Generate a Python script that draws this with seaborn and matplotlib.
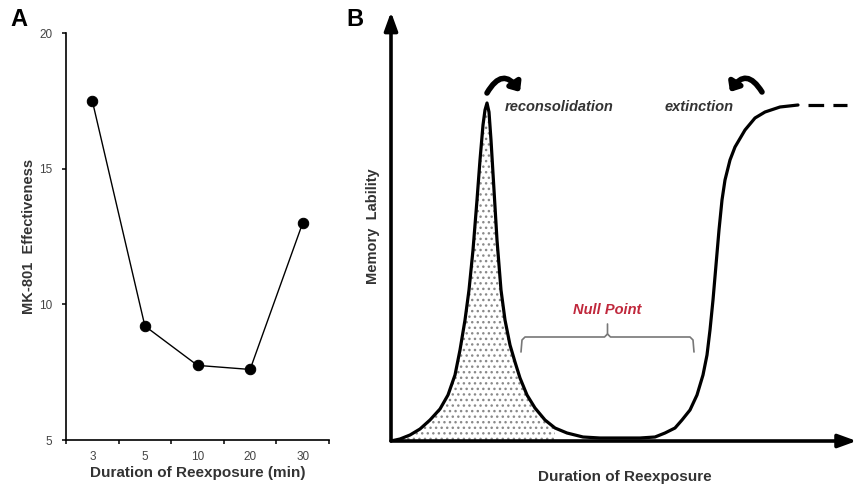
import matplotlib.pyplot as plt
import seaborn as sns
import pandas as pd
import numpy as np
from matplotlib.patches import FancyArrowPatch

# Panel A: MK-801 effectiveness vs duration of reexposure
exposure_min = ["3", "5", "10", "20", "30"]
mk801_effect = [17.5, 9.2, 7.75, 7.6, 13.0]

# Panel B: schematic memory lability curve (arbitrary units)
b_duration = [0, 9, 19, 29, 39, 49, 57, 64, 69, 74, 78, 82, 86, 89, 92, 94, 96,
              98, 100, 103, 106, 110, 114, 119, 124, 129, 136, 144, 154, 164, 176,
              192, 209, 229, 249, 264, 274, 284, 291, 299, 306, 312, 316, 319, 322,
              325, 328, 331, 334, 339, 344, 354, 364, 374, 389, 407]
b_lability = [0, 2, 6, 12, 21, 32, 46, 66, 91, 121, 151, 191, 241, 281, 316, 331, 338,
              329, 301, 251, 201, 151, 121, 96, 79, 63, 46, 33, 21, 13, 8,
              4, 3, 3, 3, 4, 8, 13, 21, 31, 46, 66, 86, 111, 141,
              176, 211, 241, 261, 281, 294, 311, 323, 329, 334, 336]
dash_duration = [417, 456]
dash_lability = [336, 336]
shade_until = 166
null_span = [130, 303]

sns.set_theme(style="white")
plt.rcParams["font.family"] = ["Liberation Sans", "DejaVu Sans"]

fig = plt.figure(figsize=(8.58, 4.86), dpi=100)

# ---------------- A ----------------
axA = fig.add_axes([66 / 858, 1 - 440 / 486, 263 / 858, 407 / 486])
dfA = pd.DataFrame({"pos": np.arange(len(exposure_min)), "eff": mk801_effect})
sns.lineplot(data=dfA, x="pos", y="eff", ax=axA, color="black", lw=1.0,
             marker="o", markersize=7.5, markeredgecolor="black", estimator=None)
axA.set_xlim(-0.5, len(exposure_min) - 0.5)
axA.set_ylim(5, 20)
axA.set_yticks([5, 10, 15, 20])
axA.set_xticks(range(len(exposure_min)))
axA.set_xticklabels(exposure_min)
axA.set_xticks(np.arange(-0.5, len(exposure_min)), minor=True)
axA.tick_params(axis="x", which="major", length=0, pad=8, labelsize=8.5, labelcolor="#444444")
axA.tick_params(axis="x", which="minor", bottom=True, length=3, width=1.1, color="black")
axA.tick_params(axis="y", left=True, length=3, width=1.1, color="black", pad=7,
                labelsize=8.5, labelcolor="#444444")
for s in ["top", "right"]:
    axA.spines[s].set_visible(False)
for s in ["left", "bottom"]:
    axA.spines[s].set_color("black")
    axA.spines[s].set_linewidth(1.2)
axA.set_xlabel("")
axA.set_ylabel("")
axA.text(0.5, -0.063, "Duration of Reexposure (min)", transform=axA.transAxes,
         fontsize=11, fontweight="bold", color="#333333", ha="center", va="top")
axA.text(-0.14, 0.5, "MK-801  Effectiveness", transform=axA.transAxes, rotation=90,
         fontsize=10.5, fontweight="bold", color="#333333", ha="center", va="center")
fig.text(10 / 858, 1 - 8 / 486, "A", fontsize=17, fontweight="bold", color="black",
         va="top", ha="left")

# ---------------- B ----------------
axB = fig.add_axes([391 / 858, 1 - 441 / 486, 467 / 858, 429 / 486])
axB.set_xlim(0, 467)
axB.set_ylim(0, 429)
for s in axB.spines.values():
    s.set_visible(False)
axB.set_xticks([])
axB.set_yticks([])

bx = np.array(b_duration)
by = np.array(b_lability)
axB.fill_between(bx, 0, by, where=bx <= shade_until, facecolor="white",
                 edgecolor="#8a8a8a", hatch="...", linewidth=0, zorder=1)
sns.lineplot(x=b_duration, y=b_lability, ax=axB, sort=False, estimator=None,
             color="black", lw=2.3, zorder=3)
axB.plot(dash_duration, dash_lability, color="black", lw=2.3, dashes=(4.9, 2.9),
         solid_capstyle="butt", zorder=3)

# axis arrows
arrow_kw = dict(arrowstyle="-|>,head_length=0.55,head_width=0.2", mutation_scale=20,
                lw=2.6, color="black", shrinkA=0, shrinkB=0)
axB.annotate("", xy=(0.997, 0), xytext=(0, 0), xycoords="axes fraction",
             textcoords="axes fraction", arrowprops=arrow_kw, annotation_clip=False)
axB.annotate("", xy=(0, 1.0), xytext=(0, 0), xycoords="axes fraction",
             textcoords="axes fraction", arrowprops=arrow_kw, annotation_clip=False)

# curved arrows
curl_kw = dict(arrowstyle="-|>,head_length=0.35,head_width=0.3", mutation_scale=14,
               lw=4, color="black", shrinkA=0, shrinkB=0)
axB.add_patch(FancyArrowPatch((96, 348), (129, 349), connectionstyle="arc3,rad=-0.8",
                              **curl_kw))
axB.add_patch(FancyArrowPatch((371, 349), (339, 349), connectionstyle="arc3,rad=0.8",
                              **curl_kw))

axB.text(114, 334, "reconsolidation", fontsize=10.5, fontweight="bold", style="italic",
         color="#333333", ha="left", va="center")
axB.text(274, 334, "extinction", fontsize=10.5, fontweight="bold", style="italic",
         color="#333333", ha="left", va="center")

# null point brace
mid = (null_span[0] + null_span[1]) / 2
x0, x1 = null_span
axB.plot([x0, x0 + 1, x0 + 4, mid - 3, mid, mid], [89, 101, 104, 104, 107, 117],
         color="#777777", lw=1.2)
axB.plot([mid, mid + 3, x1 - 4, x1 - 1, x1], [107, 104, 104, 101, 89],
         color="#777777", lw=1.2)
axB.text(mid, 131, "Null Point", fontsize=10.5, fontweight="bold", style="italic",
         color="#c0283c", ha="center", va="center")

axB.text(0.5, -0.068, "Duration of Reexposure", transform=axB.transAxes,
         fontsize=11, fontweight="bold", color="#333333", ha="center", va="top")
axB.text(-0.039, 0.5, "Memory  Lability", transform=axB.transAxes, rotation=90,
         fontsize=10.5, fontweight="bold", color="#333333", ha="center", va="center")
fig.text(346 / 858, 1 - 8 / 486, "B", fontsize=17, fontweight="bold", color="black",
         va="top", ha="left")

fig.savefig("out.png", dpi=100)
